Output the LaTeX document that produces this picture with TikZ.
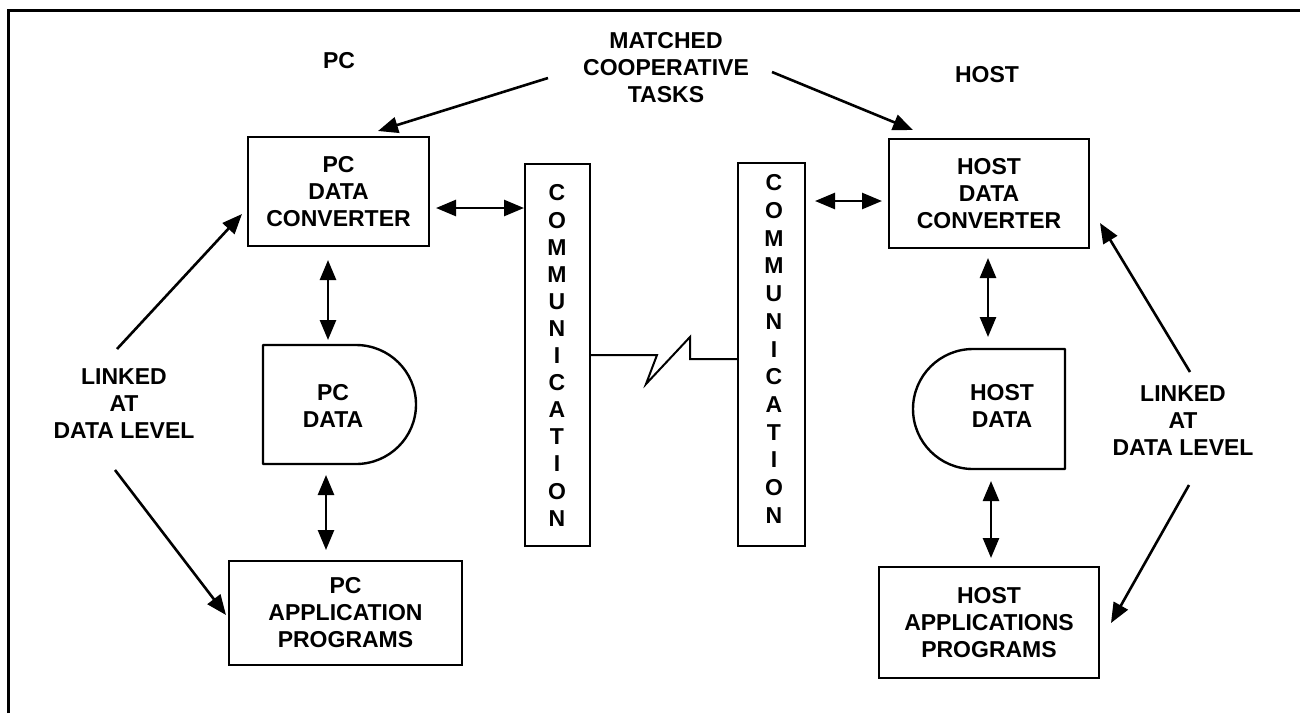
\documentclass[tikz,border=0pt]{standalone}
\usepackage{fontspec}
\setmainfont{Liberation Sans}
\usetikzlibrary{arrows.meta}
\begin{document}
\begin{tikzpicture}[x=1pt,y=-1pt,
  box/.style={draw, line width=2.4pt, rectangle, inner sep=0pt, align=center,
    font=\fontsize{23}{27}\selectfont\bfseries},
  lbl/.style={align=center, font=\fontsize{23}{27}\selectfont\bfseries, inner sep=0pt},
  arr/.style={line width=2.6pt, -{Triangle[length=20pt,width=16pt]}},
  dbl/.style={line width=2.6pt, {Triangle[length=20pt,width=16pt]}-{Triangle[length=20pt,width=16pt]}},
  shapeline/.style={line width=2.4pt, line join=round},
]
\useasboundingbox (0,0) rectangle (1300,713);
% frame
\draw[line width=3pt] (8,713) -- (8,10) -- (1300,10);

% labels
\node[lbl] (pclabel) at (339,61) {PC};
\node[lbl] (hostlabel) at (987,75) {HOST};
\node[lbl] (matched) at (666,68) {MATCHED\\COOPERATIVE\\TASKS};
\node[lbl] (linkL) at (124,404) {LINKED\\AT\\DATA LEVEL};
\node[lbl] (linkR) at (1183,421) {LINKED\\AT\\DATA LEVEL};

% boxes
\node[box, minimum width=181pt, minimum height=109pt] (pcconv) at (338.5,191.5) {PC\\DATA\\CONVERTER};
\node[box, minimum width=200pt, minimum height=109pt] (hostconv) at (989,193.5) {HOST\\DATA\\CONVERTER};
\node[box, minimum width=233pt, minimum height=104pt] (pcapp) at (345.5,613) {PC\\APPLICATION\\PROGRAMS};
\node[box, minimum width=220pt, minimum height=111pt] (hostapp) at (989,622.5) {HOST\\APPLICATIONS\\PROGRAMS};

% communication boxes
\node[box, minimum width=65pt, minimum height=382pt] (commL) at (557.5,355) {};
\node[lbl, font=\fontsize{23}{27.1}\selectfont\bfseries] (commLtext) at (557,355.5)
  {C\\O\\M\\M\\U\\N\\I\\C\\A\\T\\I\\O\\N};
\node[box, minimum width=67pt, minimum height=383pt] (commR) at (771.5,354.5) {};
\node[lbl, font=\fontsize{23}{27.7}\selectfont\bfseries] (commRtext) at (774,349)
  {C\\O\\M\\M\\U\\N\\I\\C\\A\\T\\I\\O\\N};

% data shapes
\draw[shapeline] (263,345) -- (356,345) arc[start angle=-90, end angle=90, x radius=60, y radius=59.5] -- (263,464) -- cycle;
\node[lbl] (pcdata) at (333,405.5) {PC\\DATA};
\draw[shapeline] (1065,349) -- (973,349) arc[start angle=-90, end angle=-270, x radius=60, y radius=60] -- (1065,469) -- cycle;
\node[lbl] (hostdata) at (1002,406) {HOST\\DATA};

% lightning link
\draw[line width=2pt, line join=miter] (commL.east |- 0,355) -- (657,355) -- (646,384) -- (690,337) -- (690,359) -- (commR.west |- 0,359);

% arrow endpoints
\coordinate (m1s) at (548,78);   \coordinate (m1e) at (378,131);
\coordinate (m2s) at (772,72);   \coordinate (m2e) at (913,130);
\coordinate (h1s) at (436,208);  \coordinate (h1e) at (524,208);
\coordinate (h2s) at (815,201);  \coordinate (h2e) at (882,201);
\coordinate (v1s) at (328,260);  \coordinate (v1e) at (328,340);
\coordinate (v2s) at (326,475);  \coordinate (v2e) at (326,550);
\coordinate (v3s) at (988,258);  \coordinate (v3e) at (988,337);
\coordinate (v4s) at (991,481);  \coordinate (v4e) at (991,558);
\coordinate (l1s) at (117,349);  \coordinate (l1e) at (242,214);
\coordinate (l2s) at (115,470);  \coordinate (l2e) at (226,615);
\coordinate (r1s) at (1190,372); \coordinate (r1e) at (1100,223);
\coordinate (r2s) at (1189,485); \coordinate (r2e) at (1111,623);

\draw[arr] (m1s) -- (m1e);
\draw[arr] (m2s) -- (m2e);
\draw[dbl] (h1s) -- (h1e);
\draw[dbl] (h2s) -- (h2e);
\draw[dbl] (v1s) -- (v1e);
\draw[dbl] (v2s) -- (v2e);
\draw[dbl] (v3s) -- (v3e);
\draw[dbl] (v4s) -- (v4e);
\draw[arr] (l1s) -- (l1e);
\draw[arr] (l2s) -- (l2e);
\draw[arr] (r1s) -- (r1e);
\draw[arr] (r2s) -- (r2e);
\end{tikzpicture}
\end{document}
